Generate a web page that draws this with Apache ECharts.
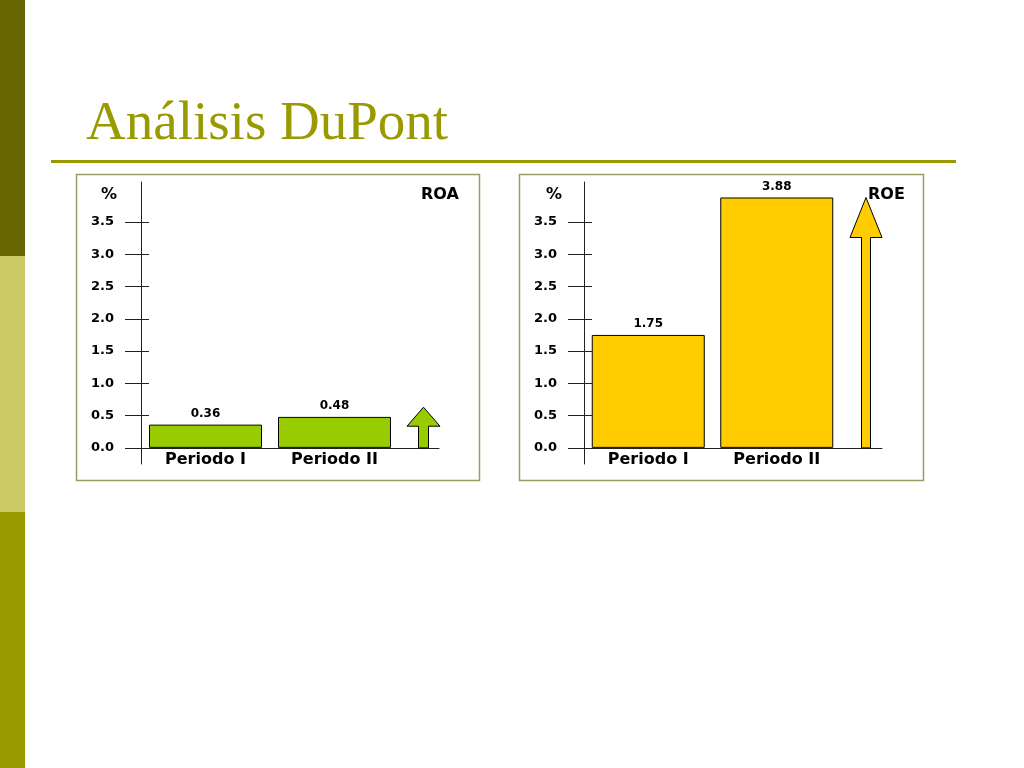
<!DOCTYPE html>
<html>
<head>
<meta charset="utf-8">
<script src="https://cdn.jsdelivr.net/npm/echarts@6/dist/echarts.min.js"></script>
<style>
  html, body { margin: 0; padding: 0; background: #ffffff; }
  #chart { width: 1024px; height: 768px; }
</style>
</head>
<body>
<div id="chart"></div>
<script>
// ---- data ----
const categories = ['Periodo I', 'Periodo II'];
const roaValues = [0.36, 0.48];
const roeValues = [1.75, 3.88];
const roaArrow = [0.63];
const roeArrow = [3.88];
const yTicks = [0, 0.5, 1, 1.5, 2, 2.5, 3, 3.5];
const titleText = 'Análisis DuPont';

// ---- styles ----
const FONT = 'DejaVu Sans';
const AX_COLOR = '#222222';
const Y_MIN = -0.25, Y_MAX = 4.12;
const GRID_TOP = 182, GRID_H = 282;

function mainY(gridIndex) {
  return {
    type: 'value', gridIndex: gridIndex, position: 'left',
    min: Y_MIN, max: Y_MAX,
    axisLine: { show: true, onZero: false, lineStyle: { color: AX_COLOR, width: 1 } },
    axisTick: { show: false },
    splitLine: { show: false },
    axisLabel: {
      show: true, customValues: yTicks, margin: 27,
      formatter: function (v) { return Number(v).toFixed(1); },
      color: '#000', fontFamily: FONT, fontWeight: 'bold', fontSize: 13
    }
  };
}
function tickY(gridIndex) {
  return {
    type: 'value', gridIndex: gridIndex, position: 'left', offset: -8,
    min: Y_MIN, max: Y_MAX,
    axisLine: { show: false },
    axisTick: { show: true, customValues: yTicks, inside: false, length: 24, lineStyle: { color: AX_COLOR, width: 1 } },
    splitLine: { show: false },
    axisLabel: { show: false }
  };
}
function hiddenY(gridIndex) {
  return {
    type: 'value', gridIndex: gridIndex, min: Y_MIN, max: Y_MAX, show: false
  };
}
function catX(gridIndex, data, showLabel) {
  return {
    type: 'category', gridIndex: gridIndex, data: data,
    axisLine: { show: true, onZero: true, lineStyle: { color: AX_COLOR, width: 1 } },
    axisTick: { show: false },
    splitLine: { show: false },
    axisLabel: {
      show: showLabel, margin: -12, interval: 0,
      color: '#000', fontFamily: FONT, fontWeight: 'bold', fontSize: 16
    }
  };
}
function barSeries(xi, yi, data, color) {
  return {
    type: 'bar', xAxisIndex: xi, yAxisIndex: yi, data: data,
    barWidth: 113,
    itemStyle: { color: color, borderColor: '#000', borderWidth: 1 },
    label: {
      show: true, position: 'top', distance: 5,
      formatter: function (p) { return Number(p.value).toFixed(2); },
      color: '#000', fontFamily: FONT, fontWeight: 'bold', fontSize: 12
    }
  };
}
// upward arrow drawn from 0 to the value through the axis scale
function arrowSeries(xi, yi, values, color, headW, headH, shaftW, dx) {
  return {
    type: 'custom', xAxisIndex: xi, yAxisIndex: yi,
    data: values.map(function (v, i) { return [i, v]; }),
    encode: { x: 0, y: 1 },
    silent: true,
    renderItem: function (params, api) {
      const top = api.coord([api.value(0), api.value(1)]);
      const base = api.coord([api.value(0), 0]);
      const cx = top[0] + dx, ty = top[1], hy = top[1] + headH, by = base[1];
      return {
        type: 'polygon',
        shape: { points: [
          [cx, ty], [cx + headW / 2, hy], [cx + shaftW / 2, hy], [cx + shaftW / 2, by],
          [cx - shaftW / 2, by], [cx - shaftW / 2, hy], [cx - headW / 2, hy]
        ] },
        style: { fill: color, stroke: '#000000', lineWidth: 1 }
      };
    }
  };
}

const chart = echarts.init(document.getElementById('chart'), null, { renderer: 'canvas' });
chart.setOption({
  animation: false,
  backgroundColor: '#ffffff',
  title: [
    { text: titleText, left: 81, top: 92,
      textStyle: { fontFamily: 'Liberation Serif', fontWeight: 'normal', fontSize: 55, color: '#999900' } },
    { text: '%', left: 96, top: 182, textStyle: { fontFamily: FONT, fontWeight: 'bold', fontSize: 16, color: '#000' } },
    { text: 'ROA', left: 416, top: 182, textStyle: { fontFamily: FONT, fontWeight: 'bold', fontSize: 16, color: '#000' } },
    { text: '%', left: 541, top: 182, textStyle: { fontFamily: FONT, fontWeight: 'bold', fontSize: 16, color: '#000' } },
    { text: 'ROE', left: 863, top: 182, textStyle: { fontFamily: FONT, fontWeight: 'bold', fontSize: 16, color: '#000' } }
  ],
  graphic: [
    { type: 'rect', shape: { x: 0, y: 0, width: 25, height: 256 }, style: { fill: '#666600' }, silent: true },
    { type: 'rect', shape: { x: 0, y: 256, width: 25, height: 256 }, style: { fill: '#cccc66' }, silent: true },
    { type: 'rect', shape: { x: 0, y: 512, width: 25, height: 256 }, style: { fill: '#999900' }, silent: true },
    { type: 'rect', shape: { x: 51, y: 160, width: 905, height: 3 }, style: { fill: '#999900' }, silent: true },
    { type: 'rect', shape: { x: 76.5, y: 174.5, width: 403, height: 306 }, style: { fill: 'none', stroke: '#9c9c66', lineWidth: 1.5 }, silent: true, z: -1 },
    { type: 'rect', shape: { x: 519.5, y: 174.5, width: 404, height: 306 }, style: { fill: 'none', stroke: '#9c9c66', lineWidth: 1.5 }, silent: true, z: -1 }
  ],
  grid: [
    { left: 141, top: GRID_TOP, width: 258, height: GRID_H },
    { left: 399, top: GRID_TOP, width: 40, height: GRID_H },
    { left: 584, top: GRID_TOP, width: 257, height: GRID_H },
    { left: 841, top: GRID_TOP, width: 41, height: GRID_H }
  ],
  xAxis: [
    catX(0, categories, true),
    catX(1, [''], false),
    catX(2, categories, true),
    catX(3, [''], false)
  ],
  yAxis: [
    mainY(0), tickY(0), hiddenY(1),
    mainY(2), tickY(2), hiddenY(3)
  ],
  series: [
    barSeries(0, 0, roaValues, '#99cc00'),
    arrowSeries(1, 2, roaArrow, '#99cc00', 33, 19, 10, 4.5),
    barSeries(2, 3, roeValues, '#ffcc00'),
    arrowSeries(3, 5, roeArrow, '#ffcc00', 32, 40, 9, 4.5)
  ]
});
</script>
</body>
</html>
